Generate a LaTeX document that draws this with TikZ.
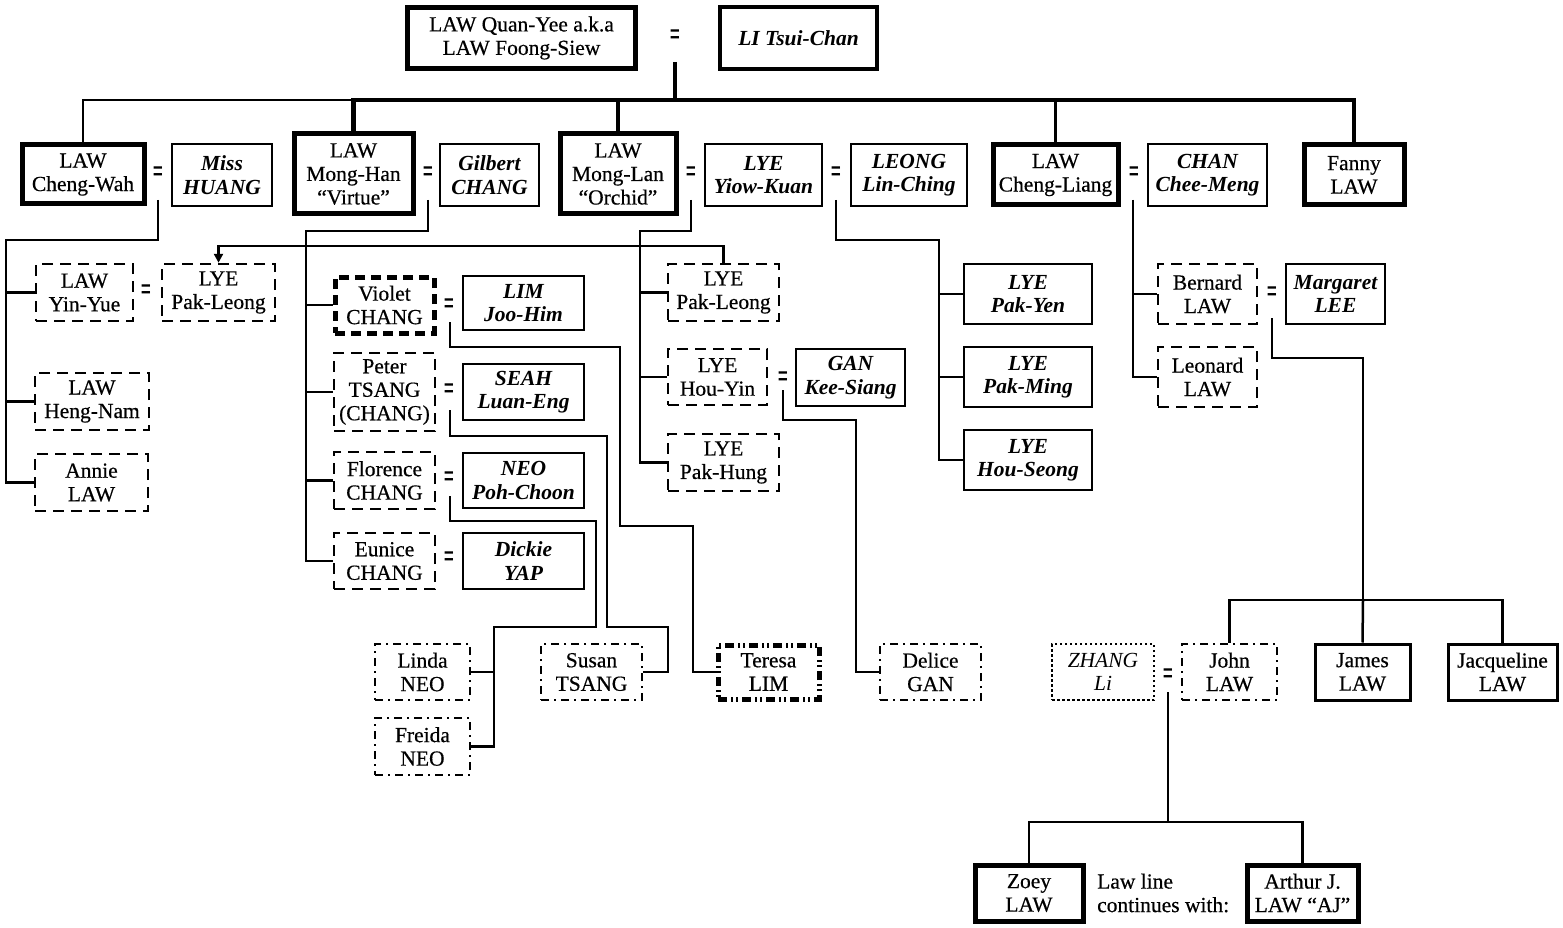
\documentclass[tikz,border=0pt]{standalone}
\usepackage{fontspec}
\setmainfont{Liberation Serif}[UprightFeatures={FakeBold=0.5}]
\usetikzlibrary{arrows.meta}
\tikzset{
  pbox/.style={draw, line width=2.5pt, inner sep=0pt, align=center,
    font=\fontsize{21.5}{23.5}\selectfont, text=black},
  thickbox/.style={pbox, line width=5pt},
  dbox/.style={pbox, dash pattern=on 11pt off 7pt},
  vbox/.style={pbox, line width=5pt, dash pattern=on 10pt off 6pt},
  ddbox/.style={pbox, dash pattern=on 8pt off 5pt on 2pt off 5pt},
  tbox/.style={pbox, line width=5pt, dash pattern=on 9pt off 4pt on 2pt off 3pt on 2pt off 4pt},
  zbox/.style={pbox, dash pattern=on 2.5pt off 2.5pt},
  spouse/.style={font=\fontsize{21.5}{23.5}\selectfont\bfseries\itshape},
  conn/.style={line width=2.5pt},
  tconn/.style={line width=4.5pt},
  eqs/.style={font=\fontsize{24}{24}\selectfont\bfseries, inner sep=0pt},
}
\newcommand{\eqsign}{\scalebox{0.75}[1.4]{=}}
\begin{document}
\begin{tikzpicture}[x=1pt,y=-1pt]
\useasboundingbox (0,0) rectangle (1563,928);

% generation 1
\node[thickbox, minimum width=228pt, minimum height=61pt] (Q) at (521.5,38) {LAW Quan-Yee a.k.a\\LAW Foong-Siew};
\node[eqs] (e0) at (675,38) {\eqsign};
\node[thickbox, spouse, line width=4pt, minimum width=157pt, minimum height=62pt] (LI) at (798.5,38) {LI Tsui-Chan};

% generation 2
\node[thickbox, minimum width=122pt, minimum height=59pt] (CW) at (83,174.5) {LAW\\Cheng-Wah};
\node[eqs] (e1) at (158,175) {\eqsign};
\node[pbox, spouse, minimum width=100pt, minimum height=62pt] (HU) at (222,175) {Miss\\HUANG};
\node[thickbox, minimum width=119pt, minimum height=80pt] (MH) at (353.5,174) {LAW\\Mong-Han\\“Virtue”};
\node[eqs] (e2) at (428,175) {\eqsign};
\node[pbox, spouse, minimum width=99pt, minimum height=62pt] (GC) at (489.5,175) {Gilbert\\CHANG};
\node[thickbox, minimum width=116pt, minimum height=80pt] (ML) at (618,174) {LAW\\Mong-Lan\\“Orchid”};
\node[eqs] (e3) at (691,175) {\eqsign};
\node[pbox, spouse, minimum width=117pt, minimum height=62pt] (YK) at (763.5,175) {LYE\\Yiow-Kuan};
\node[eqs] (e4) at (836,175) {\eqsign};
\node[pbox, spouse, minimum width=116pt, minimum height=62pt] (LC) at (909,175) {LEONG\\Lin-Ching};
\node[thickbox, minimum width=125pt, minimum height=60pt] (CL) at (1055.5,175) {LAW\\Cheng-Liang};
\node[eqs] (e5) at (1134,175) {\eqsign};
\node[pbox, spouse, minimum width=119pt, minimum height=62pt] (CC) at (1207.5,175) {CHAN\\Chee-Meng};
\node[thickbox, minimum width=100pt, minimum height=60pt] (FL) at (1354,175) {Fanny\\LAW};

% generation 3 - Cheng-Wah
\node[dbox, minimum width=97pt, minimum height=57pt] (YY) at (84.5,292.5) {LAW\\Yin-Yue};
\node[eqs] (e6) at (146,293) {\eqsign};
\node[dbox, minimum width=113pt, minimum height=57pt] (PL1) at (218.5,292.5) {LYE\\Pak-Leong};
\node[dbox, minimum width=114pt, minimum height=57pt] (HN) at (92,401.5) {LAW\\Heng-Nam};
\node[dbox, minimum width=113pt, minimum height=57pt] (AN) at (91.5,482.5) {Annie\\LAW};

% generation 3 - Mong-Han
\node[vbox, minimum width=99pt, minimum height=56pt] (VC) at (384.5,305) {Violet\\CHANG};
\node[eqs] (e7) at (449,307) {\eqsign};
\node[pbox, spouse, minimum width=121pt, minimum height=54pt] (LJ) at (523.5,303) {LIM\\Joo-Him};
\node[dbox, minimum width=101pt, minimum height=78pt] (PT) at (384.5,392) {Peter\\TSANG\\(CHANG)};
\node[eqs] (e8) at (449,392) {\eqsign};
\node[pbox, spouse, minimum width=121pt, minimum height=56pt] (SL) at (523.5,392) {SEAH\\Luan-Eng};
\node[dbox, minimum width=101pt, minimum height=57pt] (FC) at (384.5,480.5) {Florence\\CHANG};
\node[eqs] (e9) at (449,480) {\eqsign};
\node[pbox, spouse, minimum width=121pt, minimum height=55pt] (NP) at (523.5,480.5) {NEO\\Poh-Choon};
\node[dbox, minimum width=101pt, minimum height=56pt] (EC) at (384.5,561) {Eunice\\CHANG};
\node[eqs] (e10) at (449,560) {\eqsign};
\node[pbox, spouse, minimum width=121pt, minimum height=56pt] (DY) at (523.5,561) {Dickie\\YAP};

% generation 3 - Mong-Lan
\node[dbox, minimum width=111pt, minimum height=57pt] (PL2) at (723.5,292.5) {LYE\\Pak-Leong};
\node[dbox, minimum width=99pt, minimum height=56pt] (HY) at (717.5,377) {LYE\\Hou-Yin};
\node[eqs] (e11) at (783,380) {\eqsign};
\node[pbox, spouse, minimum width=109pt, minimum height=57pt] (GK) at (850.5,377.5) {GAN\\Kee-Siang};
\node[dbox, minimum width=111pt, minimum height=57pt] (PH) at (723.5,462.5) {LYE\\Pak-Hung};

% generation 3 - Yiow-Kuan & Lin-Ching
\node[pbox, spouse, minimum width=128pt, minimum height=60pt] (PY) at (1028,294) {LYE\\Pak-Yen};
\node[pbox, spouse, minimum width=128pt, minimum height=60pt] (PM) at (1028,377) {LYE\\Pak-Ming};
\node[pbox, spouse, minimum width=128pt, minimum height=60pt] (HS) at (1028,460) {LYE\\Hou-Seong};

% generation 3 - Cheng-Liang
\node[dbox, minimum width=99pt, minimum height=60pt] (BL) at (1207.5,294) {Bernard\\LAW};
\node[eqs] (e12) at (1272,295) {\eqsign};
\node[pbox, spouse, minimum width=99pt, minimum height=60pt] (MG) at (1335.5,294) {Margaret\\LEE};
\node[dbox, minimum width=99pt, minimum height=60pt] (LL) at (1207.5,377) {Leonard\\LAW};

% generation 4
\node[ddbox, minimum width=95pt, minimum height=56pt] (LN) at (422.5,672) {Linda\\NEO};
\node[ddbox, minimum width=95pt, minimum height=57pt] (FN) at (422.5,746.5) {Freida\\NEO};
\node[ddbox, minimum width=101pt, minimum height=56pt] (ST) at (591.5,672) {Susan\\TSANG};
\node[tbox, minimum width=101pt, minimum height=54pt] (TL) at (768.5,672) {Teresa\\LIM};
\node[ddbox, minimum width=101pt, minimum height=56pt] (DG) at (930.5,672) {Delice\\GAN};
\node[zbox, font=\fontsize{21.5}{23.5}\selectfont\itshape, minimum width=102pt, minimum height=56pt] (ZL) at (1103,672) {ZHANG\\Li};
\node[eqs] (e13) at (1168,677) {\eqsign};
\node[ddbox, minimum width=95pt, minimum height=56pt] (JL) at (1229.5,672) {John\\LAW};
\node[pbox, line width=3pt, minimum width=95pt, minimum height=56pt] (JA) at (1362.5,672) {James\\LAW};
\node[pbox, line width=3pt, minimum width=109pt, minimum height=56pt] (JQ) at (1502.5,672) {Jacqueline\\LAW};

% generation 5
\node[thickbox, minimum width=108pt, minimum height=56pt] (ZY) at (1029,893) {Zoey\\LAW};
\node[anchor=west, align=left, inner sep=0pt, font=\fontsize{21.5}{23.5}\selectfont] (note) at (1097,893) {Law line\\continues with:};
\node[thickbox, minimum width=111pt, minimum height=56pt] (AJ) at (1302.5,893) {Arthur J.\\LAW “AJ”};

% connectors: generation 1 -> 2
\coordinate (f0) at (675,62);
\coordinate (bar) at (675,100);
\draw[tconn] (f0) -- (bar);
\draw[conn] (CW.north) |- (MH.north |- bar);
\draw[tconn] (MH.north) |- (FL.north |- bar) -- (FL.north);
\draw[tconn] (ML.north) -- (ML.north |- bar);
\draw[conn] (CL.north) -- (CL.north |- bar);

% Cheng-Wah family
\coordinate (f1) at (158,200);
\coordinate (t1) at (6,240);
\draw[conn] (f1) |- (t1) |- (AN.west);
\draw[conn] (t1) |- (YY.west);
\draw[conn] (t1) |- (HN.west);

% Mong-Han family
\coordinate (f2) at (428,200);
\coordinate (t2) at (306,231);
\draw[conn] (f2) |- (t2) |- (EC.west);
\draw[conn] (t2) |- (VC.west);
\draw[conn] (t2) |- (PT.west);
\draw[conn] (t2) |- (FC.west);

% same person link
\draw[conn, -{Triangle[length=9pt,width=9pt]}] (PL2.north) -- ++(0,-17) -| (PL1.north);

% Mong-Lan family
\coordinate (f3) at (691,200);
\coordinate (t3) at (640,231);
\draw[conn] (f3) |- (t3) |- (PH.west);
\draw[conn] (t3) |- (PL2.west);
\draw[conn] (t3) |- (HY.west);

% Yiow-Kuan & Lin-Ching family
\coordinate (f4) at (836,200);
\coordinate (t4) at (939,240);
\draw[conn] (f4) |- (t4) |- (HS.west);
\draw[conn] (t4) |- (PY.west);
\draw[conn] (t4) |- (PM.west);

% Cheng-Liang family
\coordinate (f5) at (1133,200);
\draw[conn] (f5) |- (LL.west);
\draw[conn] (f5) |- (BL.west);

% Violet & LIM
\coordinate (f7) at (450,322);
\draw[conn] (f7) |- (620,347) |- (693,526) |- (TL.west);

% Peter & SEAH
\coordinate (f8) at (450,410);
\draw[conn] (f8) |- (607,436) |- (668,627) |- (ST.east);

% Florence & NEO
\coordinate (f9) at (450,496);
\coordinate (t9) at (494,627);
\draw[conn] (f9) |- (596,521) |- (t9) |- (FN.east);
\draw[conn] (t9) |- (LN.east);

% Hou-Yin & GAN
\coordinate (f11) at (783,390);
\draw[conn] (f11) |- (856,420) |- (DG.west);

% Bernard & Margaret
\coordinate (f12) at (1272,318);
\coordinate (t12) at (1363,600);
\draw[conn] (f12) |- (1363,358) -- (t12);
\draw[conn] (JL.north) |- (t12) -| (JQ.north);
\draw[conn] (t12) -- (JA.north);

% ZHANG & John
\coordinate (f13) at (1168,692);
\coordinate (t13) at (1168,822);
\draw[conn] (f13) -- (t13);
\draw[conn] (ZY.north) |- (t13) -| (AJ.north);
\end{tikzpicture}
\end{document}
